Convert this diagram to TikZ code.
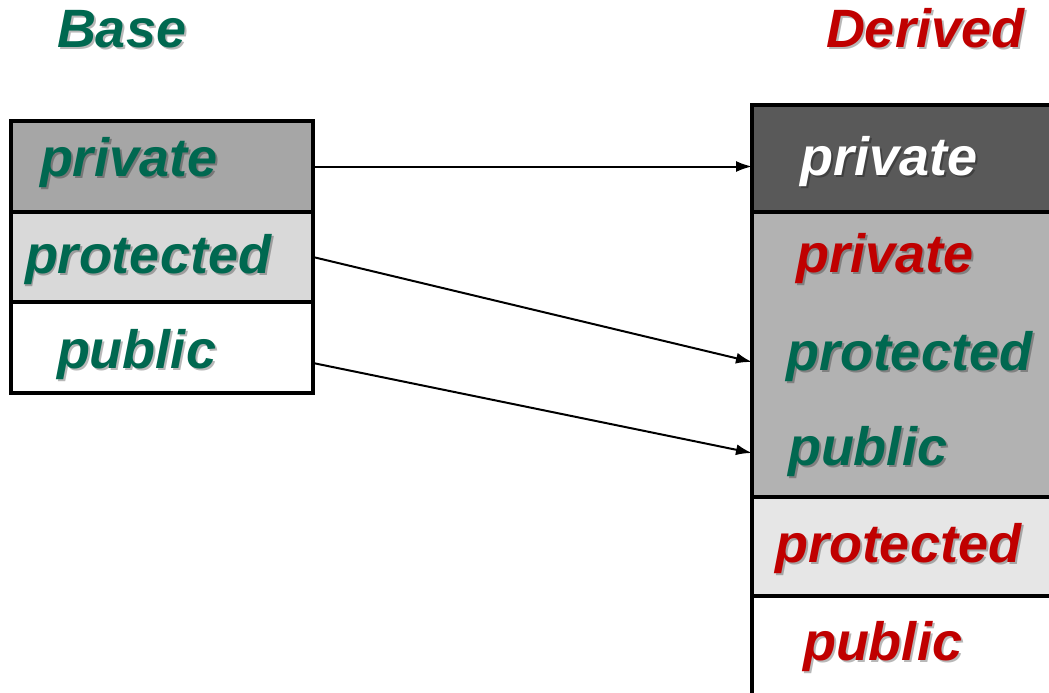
\documentclass[tikz,border=0pt]{standalone}
\usepackage{fontspec}
\setmainfont{Liberation Sans}
\usetikzlibrary{arrows.meta}
\definecolor{tgreen}{HTML}{006850}
\definecolor{tred}{HTML}{C00000}
\definecolor{fbpriv}{HTML}{A6A6A6}
\definecolor{fbprot}{HTML}{D9D9D9}
\definecolor{fdpriv}{HTML}{595959}
\definecolor{fdgray}{HTML}{B2B2B2}
\definecolor{fdprot}{HTML}{E6E6E6}
\tikzset{
  row/.style={draw=black, line width=4pt, rectangle, inner sep=0pt, outer sep=0pt, anchor=north west},
  txt/.style={anchor=base west, inner sep=0pt, outer sep=0pt, font=\fontsize{54}{60}\selectfont\bfseries\itshape},
  shad/.style={txt, text=black, opacity=0.28, xshift=2pt, yshift=-2pt},
  conn/.style={line width=2pt, -{Latex[length=16pt,width=11pt]}}
}
\newcommand\lbl[4]{%
  \node[shad] at (#2) {#4};
  \node[txt, text=#3] (#1) at (#2) {#4};}
\begin{document}
\begin{tikzpicture}[x=1pt,y=-1pt]
\useasboundingbox (0,0) rectangle (1049,693);
\clip (0,0) rectangle (1049,693);
% Base rows
\node[row, fill=fbpriv, minimum width=302pt, minimum height=91pt] (bpriv) at (11,121) {};
\node[row, fill=fbprot, minimum width=302pt, minimum height=90pt] (bprot) at (11,212) {};
\node[row, fill=white, minimum width=302pt, minimum height=91pt] (bpub) at (11,302) {};
% Derived rows
\node[row, fill=fdpriv, minimum width=400pt, minimum height=107pt] (dpriv) at (752,105) {};
\node[row, fill=fdgray, minimum width=400pt, minimum height=285pt] (dgray) at (752,212) {};
\node[row, fill=fdprot, minimum width=400pt, minimum height=99pt] (dprot) at (752,497) {};
\node[row, fill=white, minimum width=400pt, minimum height=140pt] (dpub) at (752,596) {};
% Titles
\lbl{tbase}{57,48}{tgreen}{Base}
\lbl{tderived}{826,48}{tred}{Derived}
% Base labels
\lbl{lbpriv}{40,176}{tgreen}{private}
\lbl{lbprot}{25,273}{tgreen}{protected}
\lbl{lbpub}{57,368}{tgreen}{public}
% Derived labels
\lbl{ldpriv}{800,175}{white}{private}
\lbl{ldpriv2}{796,272}{tred}{private}
\lbl{ldprot}{786,370}{tgreen}{protected}
\lbl{ldpub}{788,465}{tgreen}{public}
\lbl{ldprot2}{775,562}{tred}{protected}
\lbl{ldpub2}{803,660}{tred}{public}
% connectors
\coordinate (s1) at (bpriv.east);
\coordinate (s2) at (313,257);
\coordinate (s3) at (313,363);
\coordinate (e1) at (dpriv.west |- s1);
\coordinate (e2) at (752,362);
\coordinate (e3) at (752,453);
\draw[conn] (s1) -- (e1);
\draw[conn] (s2) -- (e2);
\draw[conn] (s3) -- (e3);
\end{tikzpicture}
\end{document}
